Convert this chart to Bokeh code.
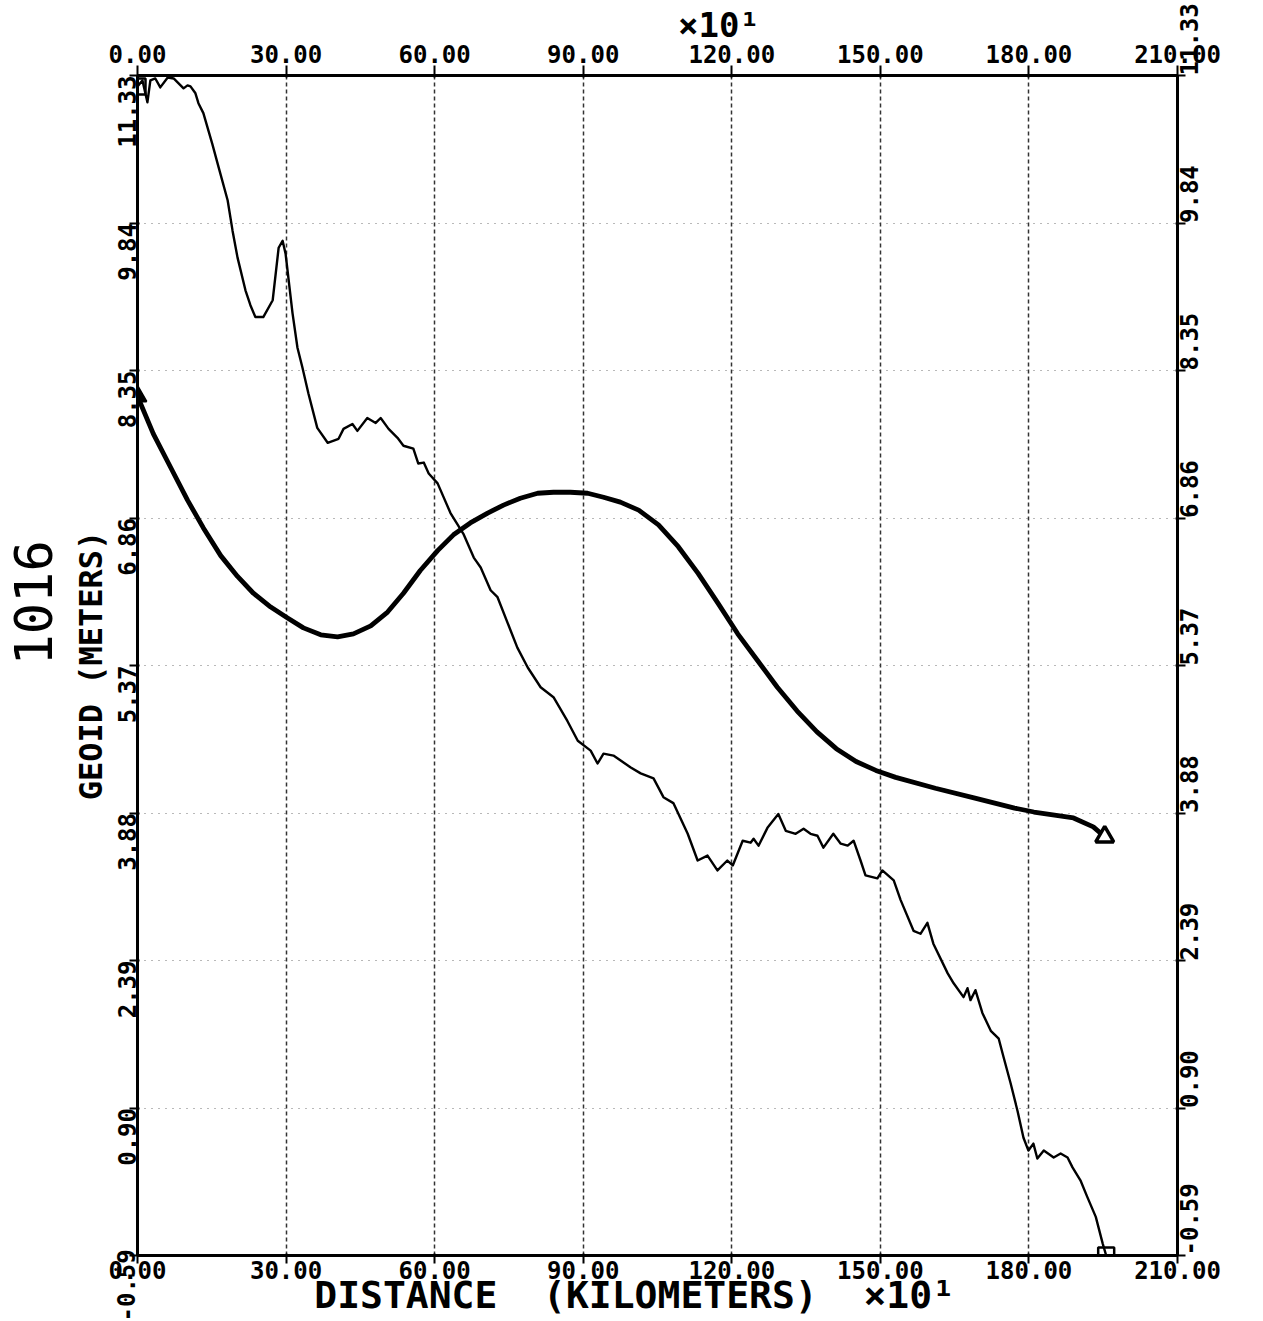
import math
from bokeh.plotting import figure
from bokeh.models import Range1d, LinearAxis, FixedTicker, NumeralTickFormatter
from bokeh.embed import file_html
from bokeh.resources import INLINE

# ---- data (distance in km x10, geoid in meters) ----
x_ticks = [0, 30, 60, 90, 120, 150, 180, 210]
y_ticks = [-0.59, 0.90, 2.39, 3.88, 5.37, 6.86, 8.35, 9.84, 11.33]

obs_distance = [0.0, 1.0, 2.0, 2.6, 3.6, 4.6, 6.1, 7.3, 9.3, 10.1, 10.7, 11.7, 12.3, 13.3,
                15.1, 16.4, 18.2, 19.2, 20.2, 21.8, 22.8, 23.8, 25.4, 27.3, 28.5, 29.3,
                29.9, 31.3, 32.3, 33.3, 34.5, 36.3, 38.4, 40.6, 41.6, 43.4, 44.4, 46.4,
                48.1, 49.1, 50.7, 52.5, 53.7, 55.7, 56.7, 57.8, 58.8, 60.6, 63.2, 65.8,
                67.9, 69.3, 71.3, 72.7, 76.7, 78.8, 81.4, 84.0, 86.8, 88.9, 91.5, 92.9,
                94.1, 96.1, 99.6, 101.6, 104.2, 106.2, 108.2, 111.1, 113.1, 115.1, 117.1,
                119.1, 120.2, 122.2, 123.8, 124.4, 125.4, 127.2, 129.4, 130.9, 132.9,
                134.5, 135.9, 137.3, 138.5, 140.5, 142.0, 143.4, 144.6, 146.0, 147.0,
                149.4, 150.4, 152.7, 154.1, 156.7, 158.1, 159.5, 160.7, 163.6, 164.8,
                166.8, 167.6, 168.2, 169.2, 170.6, 172.3, 173.9, 174.9, 176.3, 177.7,
                178.9, 179.9, 180.9, 181.7, 183.0, 185.0, 186.4, 187.8, 188.8, 190.4,
                191.8, 193.5, 194.9, 195.6]
obs_geoid = [11.22, 11.28, 11.06, 11.28, 11.30, 11.21, 11.31, 11.30, 11.20, 11.23, 11.22,
             11.15, 11.05, 10.95, 10.64, 10.40, 10.07, 9.76, 9.49, 9.16, 9.01, 8.89, 8.89,
             9.06, 9.59, 9.66, 9.53, 8.93, 8.58, 8.38, 8.12, 7.77, 7.62, 7.66, 7.76, 7.81,
             7.74, 7.87, 7.82, 7.87, 7.76, 7.67, 7.59, 7.56, 7.41, 7.42, 7.31, 7.21, 6.91,
             6.70, 6.46, 6.36, 6.13, 6.06, 5.55, 5.35, 5.15, 5.05, 4.81, 4.61, 4.51, 4.38,
             4.48, 4.46, 4.34, 4.28, 4.23, 4.04, 3.98, 3.67, 3.40, 3.45, 3.30, 3.40, 3.35,
             3.60, 3.58, 3.62, 3.55, 3.73, 3.87, 3.70, 3.67, 3.72, 3.67, 3.65, 3.53, 3.67,
             3.57, 3.55, 3.60, 3.40, 3.25, 3.22, 3.30, 3.20, 3.00, 2.69, 2.66, 2.77, 2.56,
             2.26, 2.16, 2.02, 2.11, 1.99, 2.09, 1.86, 1.68, 1.60, 1.41, 1.15, 0.87, 0.60,
             0.47, 0.54, 0.39, 0.47, 0.40, 0.44, 0.40, 0.30, 0.17, 0.00, -0.20, -0.47, -0.59]

model_distance = [0.0, 3.2, 6.7, 10.1, 13.3, 16.8, 20.2, 23.4, 26.9, 30.3, 33.5, 37.0, 40.4,
                  43.6, 47.1, 50.5, 53.7, 57.1, 60.6, 63.8, 67.2, 70.7, 73.9, 77.3, 80.8,
                  84.0, 87.4, 90.9, 94.1, 97.5, 101.2, 105.2, 109.2, 113.2, 117.2, 121.2,
                  125.2, 129.2, 133.2, 137.2, 141.1, 145.1, 149.1, 153.1, 161.1, 169.1,
                  177.1, 181.0, 189.0, 193.0, 195.3]
model_geoid = [8.09, 7.71, 7.37, 7.04, 6.76, 6.48, 6.27, 6.10, 5.96, 5.85, 5.75, 5.68, 5.66,
               5.69, 5.77, 5.91, 6.10, 6.33, 6.53, 6.69, 6.81, 6.91, 6.99, 7.06, 7.11, 7.12,
               7.12, 7.11, 7.07, 7.02, 6.94, 6.79, 6.57, 6.30, 6.00, 5.69, 5.42, 5.15, 4.91,
               4.70, 4.53, 4.40, 4.31, 4.24, 4.13, 4.03, 3.93, 3.89, 3.83, 3.74, 3.64]

MONO = "DejaVu Sans Mono"
NB = "\u00a0"

p = figure(width=1263, height=1321,
           x_range=Range1d(x_ticks[0], x_ticks[-1]),
           y_range=Range1d(y_ticks[0], y_ticks[-1]),
           output_backend="svg", toolbar_location=None,
           min_border_left=137, min_border_right=86,
           min_border_top=75, min_border_bottom=66)
p.outline_line_color = None
p.background_fill_color = "white"
p.border_fill_color = "white"

bottom = p.below[0]
left = p.left[0]


def style_axis(ax, vertical, tick_out=8, standoff=3):
    ax.ticker = FixedTicker(ticks=y_ticks if vertical else x_ticks)
    ax.formatter = NumeralTickFormatter(format="0.00")
    ax.axis_line_width = 3
    ax.axis_line_color = "black"
    ax.major_tick_line_width = 2
    ax.major_tick_out = tick_out
    ax.major_tick_in = 2
    ax.minor_tick_line_color = None
    ax.major_label_text_font = MONO
    ax.major_label_text_font_style = "bold"
    ax.major_label_text_font_size = "24px"
    ax.major_label_text_color = "black"
    ax.major_label_standoff = standoff
    ax.axis_label_text_font = MONO
    ax.axis_label_text_font_style = "bold"
    ax.axis_label_text_color = "black"
    if vertical:
        ax.major_label_orientation = math.pi / 2


style_axis(bottom, False, tick_out=8, standoff=-3)
style_axis(left, True)

top = LinearAxis()
style_axis(top, False, tick_out=10)
p.add_layout(top, "above")
right = LinearAxis()
style_axis(right, True)
p.add_layout(right, "right")

# y label
left.axis_label = "GEOID (METERS)"
left.axis_label_text_font_size = "32px"
left.axis_label_standoff = -4

# profile number, carried by a bare outer axis on the left
tag_axis = LinearAxis(ticker=FixedTicker(ticks=[]), axis_line_color=None,
                      major_tick_line_color=None, minor_tick_line_color=None,
                      major_tick_out=0, major_tick_in=0,
                      axis_label=NB * 4 + "1016", axis_label_standoff=5,
                      axis_label_text_font=MONO, axis_label_text_font_style="normal",
                      axis_label_text_font_size="52px", axis_label_text_color="black")
p.add_layout(tag_axis, "left")

# x label with the x10 exponent on the same line
bottom.axis_label = "DISTANCE" + NB * 2 + "(KILOMETERS)" + NB * 2 + "\u00d710\u00b9" + NB * 2
bottom.axis_label_text_font_size = "38px"
bottom.axis_label_standoff = -9

# exponent above the top axis
top.axis_label = NB * 6 + "\u00d710\u00b9"
top.axis_label_text_font_size = "34px"
top.axis_label_standoff = -3

p.xgrid.grid_line_color = "black"
p.xgrid.grid_line_dash = "4 3"
p.xgrid.grid_line_alpha = 0.8
p.xgrid.grid_line_width = 1.5
p.ygrid.grid_line_color = "#444444"
p.ygrid.grid_line_dash = "1 6"
p.ygrid.grid_line_alpha = 0.75
p.ygrid.grid_line_width = 1.2

# curves
p.line(obs_distance, obs_geoid, line_color="black", line_width=2.4, line_join="round")
p.line(model_distance, model_geoid, line_color="black", line_width=4.8, line_join="round")

# end markers
p.scatter([obs_distance[0], obs_distance[-1]], [obs_geoid[0], obs_geoid[-1]],
          marker="square", size=16, fill_color=None, line_color="black", line_width=2.5)
p.scatter([model_distance[0]], [model_geoid[0]], marker="triangle", size=18,
          fill_color="black", line_color="black", line_width=2)
p.scatter([model_distance[-1]], [model_geoid[-1]], marker="triangle", size=18,
          fill_color="white", line_color="black", line_width=3.5)

open("out.html", "w").write(file_html(p, INLINE))
